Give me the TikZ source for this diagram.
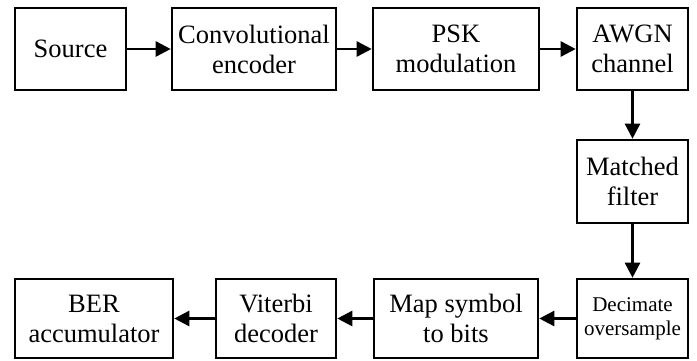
\documentclass[tikz,border=0pt]{standalone}
\usepackage{fontspec}
\setmainfont{Liberation Serif}
\usepackage{tikz}
\usetikzlibrary{arrows.meta, positioning}

\begin{document}
\begin{tikzpicture}[x=1pt, y=-1pt,
    blk/.style={draw, rectangle, line width=2.6pt, inner sep=0pt, align=center,
      minimum height=82pt, font=\fontsize{26.5}{30}\selectfont},
    flow/.style={line width=2.6pt, -{Triangle[length=15pt, width=15pt]}}]
  % page size
  \useasboundingbox (0,0) rectangle (697,360);

  % --- transmitter row
  \node[blk, minimum width=111pt] (src)  at (70.5,49) {Source};
  \node[blk, minimum width=164pt] (enc)  at (254,49)  {Convolutional\\encoder};
  \node[blk, minimum width=166pt] (mod)  at (456,49)  {PSK\\modulation};
  \node[blk, minimum width=111pt] (awgn) at (632.5,49) {AWGN\\channel};

  % --- receiver column
  \node[blk, minimum width=111pt, minimum height=83pt] (mf) at (632.5,181.5) {Matched\\filter};

  % --- receiver row
  \node[blk, minimum width=111pt, minimum height=79pt,
    font=\fontsize{21}{24}\selectfont] (dec) at (632.5,318.5) {Decimate\\oversample};
  \node[blk, minimum width=164pt, minimum height=79pt] (map) at (456,318.5) {Map symbol\\to bits};
  \node[blk, minimum width=120pt, minimum height=79pt] (vit) at (276,318.5) {Viterbi\\decoder};
  \node[blk, minimum width=158pt, minimum height=79pt] (ber) at (94,318.5)  {BER\\accumulator};

  % connectors
  \draw[flow] (src) -- (enc);
  \draw[flow] (enc) -- (mod);
  \draw[flow] (mod) -- (awgn);
  \draw[flow] (awgn) -- (mf);
  \draw[flow] (mf) -- (dec);
  \draw[flow] (dec) -- (map);
  \draw[flow] (map) -- (vit);
  \draw[flow] (vit) -- (ber);
\end{tikzpicture}
\end{document}
